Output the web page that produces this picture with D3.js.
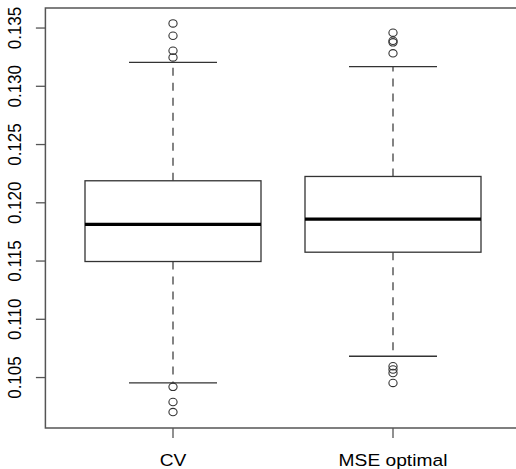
<!DOCTYPE html>
<html>
<head>
<meta charset="utf-8">
<script src="https://cdn.jsdelivr.net/npm/d3@7/dist/d3.min.js"></script>
<style>
  html, body { margin: 0; padding: 0; background: #fff; }
  svg { display: block; }
  text { font-family: "Liberation Sans", Arial, Helvetica, sans-serif; fill: #000; }
</style>
</head>
<body>
<svg id="chart" width="516" height="469"></svg>
<script>
"use strict";

const categories = ["CV", "MSE optimal"];
const lowerWhisker = [0.10454, 0.10683];
const lowerQuartile = [0.11496, 0.11576];
const medians = [0.11814, 0.11860];
const upperQuartile = [0.12189, 0.12226];
const upperWhisker = [0.13205, 0.13168];
const outliers = [
  [0.13540, 0.13434, 0.13305, 0.13248, 0.10420, 0.10290, 0.10204],
  [0.13460, 0.13391, 0.13377, 0.13283, 0.10597, 0.10569, 0.10539, 0.10454]
];
const yTicks = [0.105, 0.110, 0.115, 0.120, 0.125, 0.130, 0.135];

// rendered text in the reference is a bit wider than tall
const TEXT_SX = 1.13;
const FONT = 17;
const frameColor = "#555";
const boxColor = "#333";

const svg = d3.select("#chart");
const plot = { left: 45.4, right: 520.6, top: 8, bottom: 428 };

const x = d3.scaleLinear().domain([0.42, 2.58]).range([plot.left, plot.right]);
const y = d3.scaleLinear().domain([0.10067, 0.13672]).range([plot.bottom, plot.top]);
const boxHalf = 0.4;
const capHalf = 0.2;

const rows = categories.map(function mapRow(name, i) {
  return {
    name: name, pos: i + 1,
    lo: lowerWhisker[i], q1: lowerQuartile[i], med: medians[i],
    q3: upperQuartile[i], hi: upperWhisker[i], out: outliers[i]
  };
});

const g = svg.append("g");

// whiskers (dashed)
g.selectAll("line.whisker-up").data(rows).join("line")
  .attr("x1", function (d) { return x(d.pos); }).attr("x2", function (d) { return x(d.pos); })
  .attr("y1", function (d) { return y(d.q3); }).attr("y2", function (d) { return y(d.hi); })
  .attr("stroke", boxColor).attr("stroke-width", 1.2).attr("stroke-dasharray", "8,7");
g.selectAll("line.whisker-down").data(rows).join("line")
  .attr("x1", function (d) { return x(d.pos); }).attr("x2", function (d) { return x(d.pos); })
  .attr("y1", function (d) { return y(d.q1); }).attr("y2", function (d) { return y(d.lo); })
  .attr("stroke", boxColor).attr("stroke-width", 1.2).attr("stroke-dasharray", "8,7");

// staples
["hi", "lo"].forEach(function (key) {
  g.selectAll("line.cap-" + key).data(rows).join("line")
    .attr("x1", function (d) { return x(d.pos - capHalf); })
    .attr("x2", function (d) { return x(d.pos + capHalf); })
    .attr("y1", function (d) { return y(d[key]); })
    .attr("y2", function (d) { return y(d[key]); })
    .attr("stroke", boxColor).attr("stroke-width", 1.3);
});

// boxes
g.selectAll("rect.box").data(rows).join("rect")
  .attr("x", function (d) { return x(d.pos - boxHalf); })
  .attr("width", function (d) { return x(d.pos + boxHalf) - x(d.pos - boxHalf); })
  .attr("y", function (d) { return y(d.q3); })
  .attr("height", function (d) { return y(d.q1) - y(d.q3); })
  .attr("fill", "#fff").attr("stroke", boxColor).attr("stroke-width", 1.3);

// medians
g.selectAll("line.median").data(rows).join("line")
  .attr("x1", function (d) { return x(d.pos - boxHalf); })
  .attr("x2", function (d) { return x(d.pos + boxHalf); })
  .attr("y1", function (d) { return y(d.med); })
  .attr("y2", function (d) { return y(d.med); })
  .attr("stroke", "#000").attr("stroke-width", 3.2);

// outliers
const outPts = [];
rows.forEach(function (d) { d.out.forEach(function (v) { outPts.push({ pos: d.pos, v: v }); }); });
g.selectAll("ellipse.out").data(outPts).join("ellipse")
  .attr("cx", function (d) { return x(d.pos); })
  .attr("cy", function (d) { return y(d.v); })
  .attr("rx", 4.1).attr("ry", 3.7)
  .attr("fill", "none").attr("stroke", boxColor).attr("stroke-width", 1.1);

// frame
svg.append("rect")
  .attr("x", plot.left).attr("y", plot.top)
  .attr("width", plot.right - plot.left).attr("height", plot.bottom - plot.top)
  .attr("fill", "none").attr("stroke", frameColor).attr("stroke-width", 1.5);

// y axis
const yAxis = svg.append("g");
yAxis.selectAll("line.tick").data(yTicks).join("line")
  .attr("x1", plot.left - 9.5).attr("x2", plot.left)
  .attr("y1", function (d) { return y(d); }).attr("y2", function (d) { return y(d); })
  .attr("stroke", frameColor).attr("stroke-width", 1.3);
yAxis.selectAll("text").data(yTicks).join("text")
  .attr("transform", function (d) {
    return "translate(21," + y(d) + ") scale(" + TEXT_SX + ",1) rotate(-90)";
  })
  .attr("text-anchor", "middle")
  .attr("font-size", FONT)
  .text(function (d) { return d3.format(".3f")(d); });

// x axis
const xAxis = svg.append("g");
xAxis.selectAll("line.tick").data(rows).join("line")
  .attr("x1", function (d) { return x(d.pos); }).attr("x2", function (d) { return x(d.pos); })
  .attr("y1", plot.bottom).attr("y2", plot.bottom + 10)
  .attr("stroke", frameColor).attr("stroke-width", 1.3);
xAxis.selectAll("text").data(rows).join("text")
  .attr("transform", function (d) {
    return "translate(" + x(d.pos) + ",466) scale(" + TEXT_SX + ",1)";
  })
  .attr("text-anchor", "middle")
  .attr("font-size", FONT)
  .text(function (d) { return d.name; });
</script>
</body>
</html>
